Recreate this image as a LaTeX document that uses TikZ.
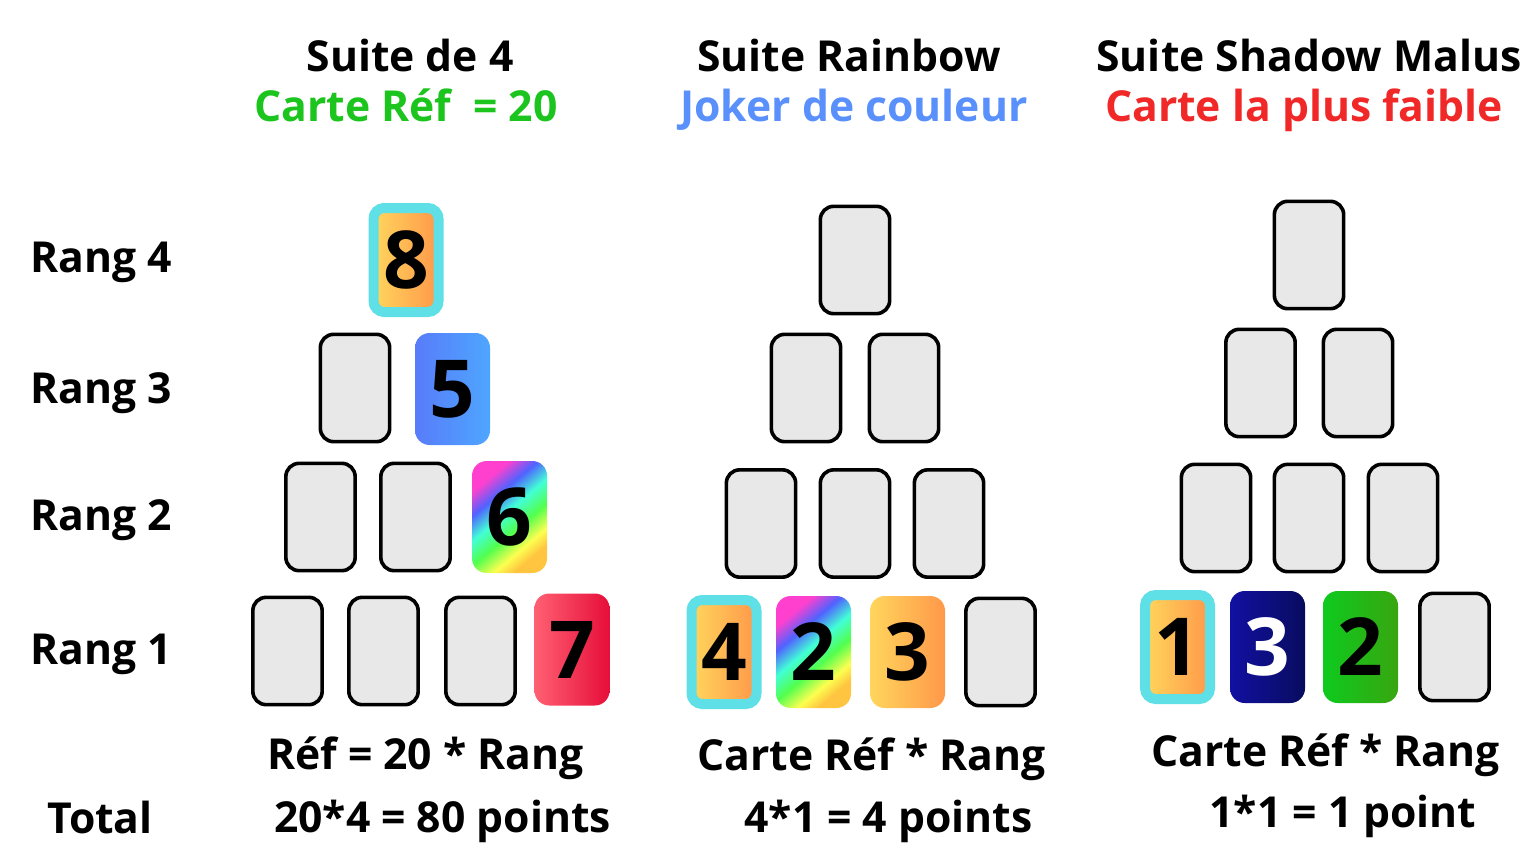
\documentclass[tikz,border=0pt]{standalone}
\usepackage{fontspec}
\setmainfont{Open Sans}
\usepackage{xcolor}
\definecolor{cCyan}{RGB}{94,224,230}
\definecolor{cBlank}{RGB}{232,232,232}
\definecolor{cOrA}{RGB}{255,214,92}
\definecolor{cOrB}{RGB}{255,152,74}
\definecolor{cBluA}{RGB}{88,124,250}
\definecolor{cBluB}{RGB}{78,166,255}
\definecolor{cRedA}{RGB}{255,96,114}
\definecolor{cRedB}{RGB}{230,14,58}
\definecolor{cNavA}{RGB}{18,16,162}
\definecolor{cNavB}{RGB}{8,12,94}
\definecolor{cGrnA}{RGB}{14,202,30}
\definecolor{cGrnB}{RGB}{56,166,16}
\definecolor{rbMag}{RGB}{255,64,206}
\definecolor{rbBlu}{RGB}{80,98,255}
\definecolor{rbCya}{RGB}{66,255,214}
\definecolor{rbGrn}{RGB}{82,255,78}
\definecolor{rbYel}{RGB}{252,255,80}
\definecolor{rbOra}{RGB}{255,196,64}
\definecolor{tGreen}{RGB}{28,196,30}
\definecolor{tBlue}{RGB}{90,144,252}
\definecolor{tRed}{RGB}{240,40,40}
\pgfdeclarehorizontalshading{rainbowcard}{100bp}{color(0bp)=(rbMag); color(27bp)=(rbMag);
  color(37bp)=(rbBlu); color(47bp)=(rbCya); color(57bp)=(rbGrn); color(67bp)=(rbYel);
  color(74bp)=(rbOra); color(100bp)=(rbOra)}
\tikzset{
  card/.style   ={rounded corners=11pt,minimum width=56.25pt,minimum height=84pt,
                  inner sep=0pt,font=\fontsize{60}{60}\selectfont\bfseries},
  blank/.style  ={card,draw=black,line width=2.7pt,fill=cBlank,rounded corners=10pt,
                  minimum width=52pt,minimum height=80.5pt},
  refcard/.style={card,draw=cCyan,line width=7.5pt,rounded corners=8pt,
                  minimum width=48.75pt,minimum height=78pt},
  orange/.style ={left color=cOrA,right color=cOrB},
  blue/.style   ={left color=cBluA,right color=cBluB},
  red/.style    ={left color=cRedA,right color=cRedB},
  navy/.style   ={left color=cNavA,right color=cNavB,text=white},
  green/.style  ={left color=cGrnA,right color=cGrnB},
  rainbow/.style={shading=rainbowcard,shading angle=-50},
  lbl/.style    ={font=\fontsize{32}{38}\selectfont\bfseries,inner sep=0pt,anchor=base},
}
\begin{document}
\begin{tikzpicture}[x=0.75pt,y=-0.75pt]
\useasboundingbox (0,0) rectangle (1540,856);

% titles
\node[lbl] (t1)  at (410,72)   {Suite de 4};
\node[lbl,text=tGreen] (t1b) at (406,121) {Carte Réf\ \ = 20};
\node[lbl] (t2)  at (849,72)   {Suite Rainbow};
\node[lbl,text=tBlue] (t2b) at (854,121) {Joker de couleur};
\node[lbl] (t3)  at (1309,72)  {Suite Shadow Malus};
\node[lbl,text=tRed] (t3b) at (1304,121) {Carte la plus faible};

% row labels
\node[lbl,anchor=base west] (r4) at (30,272) {Rang 4};
\node[lbl,anchor=base west] (r3) at (30,403) {Rang 3};
\node[lbl,anchor=base west] (r2) at (30,530) {Rang 2};
\node[lbl,anchor=base west] (r1) at (30,664) {Rang 1};
\node[lbl,anchor=base west] (tot) at (47,833) {Total};

% suite de 4
\node[refcard,orange] (a41) at (406,260) {8};
\node[blank] (a31) at (355,388) {};
\node[card,blue] (a32) at (452.5,389) {5};
\node[blank] (a21) at (320.5,517) {};
\node[blank] (a22) at (415.5,517) {};
\node[card,rainbow] (a23) at (509.5,517) {6};
\node[blank] (a11) at (287.5,651) {};
\node[blank] (a12) at (383.5,651) {};
\node[blank] (a13) at (480.5,651) {};
\node[card,red] (a14) at (572,649.5) {7};

% suite rainbow
\node[blank] (b41) at (855,260) {};
\node[blank] (b31) at (806,388) {};
\node[blank] (b32) at (904,388) {};
\node[blank] (b21) at (761,523.5) {};
\node[blank] (b22) at (855,523.5) {};
\node[blank] (b23) at (949,523.5) {};
\node[refcard,orange] (b11) at (724,652) {4};
\node[card,rainbow] (b12) at (813.5,652) {2};
\node[card,orange] (b13) at (907.5,652) {3};
\node[blank] (b14) at (1000.5,652) {};

% suite shadow malus
\node[blank] (c41) at (1309,255) {};
\node[blank] (c31) at (1260.5,383) {};
\node[blank] (c32) at (1358,383) {};
\node[blank] (c21) at (1216,518) {};
\node[blank] (c22) at (1309,518) {};
\node[blank] (c23) at (1403,518) {};
\node[refcard,orange] (c11) at (1177.5,647) {1};
\node[card,navy] (c12) at (1267.5,647) {3};
\node[card,green] (c13) at (1360.5,647) {2};
\node[blank] (c14) at (1454.5,647) {};

% totals
\node[lbl] (f1)  at (425.5,769)  {Réf = 20 * Rang};
\node[lbl] (f1b) at (442.5,832)  {20*4 = 80 points};
\node[lbl] (f2)  at (871.5,770)  {Carte Réf * Rang};
\node[lbl] (f2b) at (888.5,832)  {4*1 = 4 points};
\node[lbl] (f3)  at (1325.5,766) {Carte Réf * Rang};
\node[lbl] (f3b) at (1343,827)   {1*1 = 1 point};

\end{tikzpicture}
\end{document}
